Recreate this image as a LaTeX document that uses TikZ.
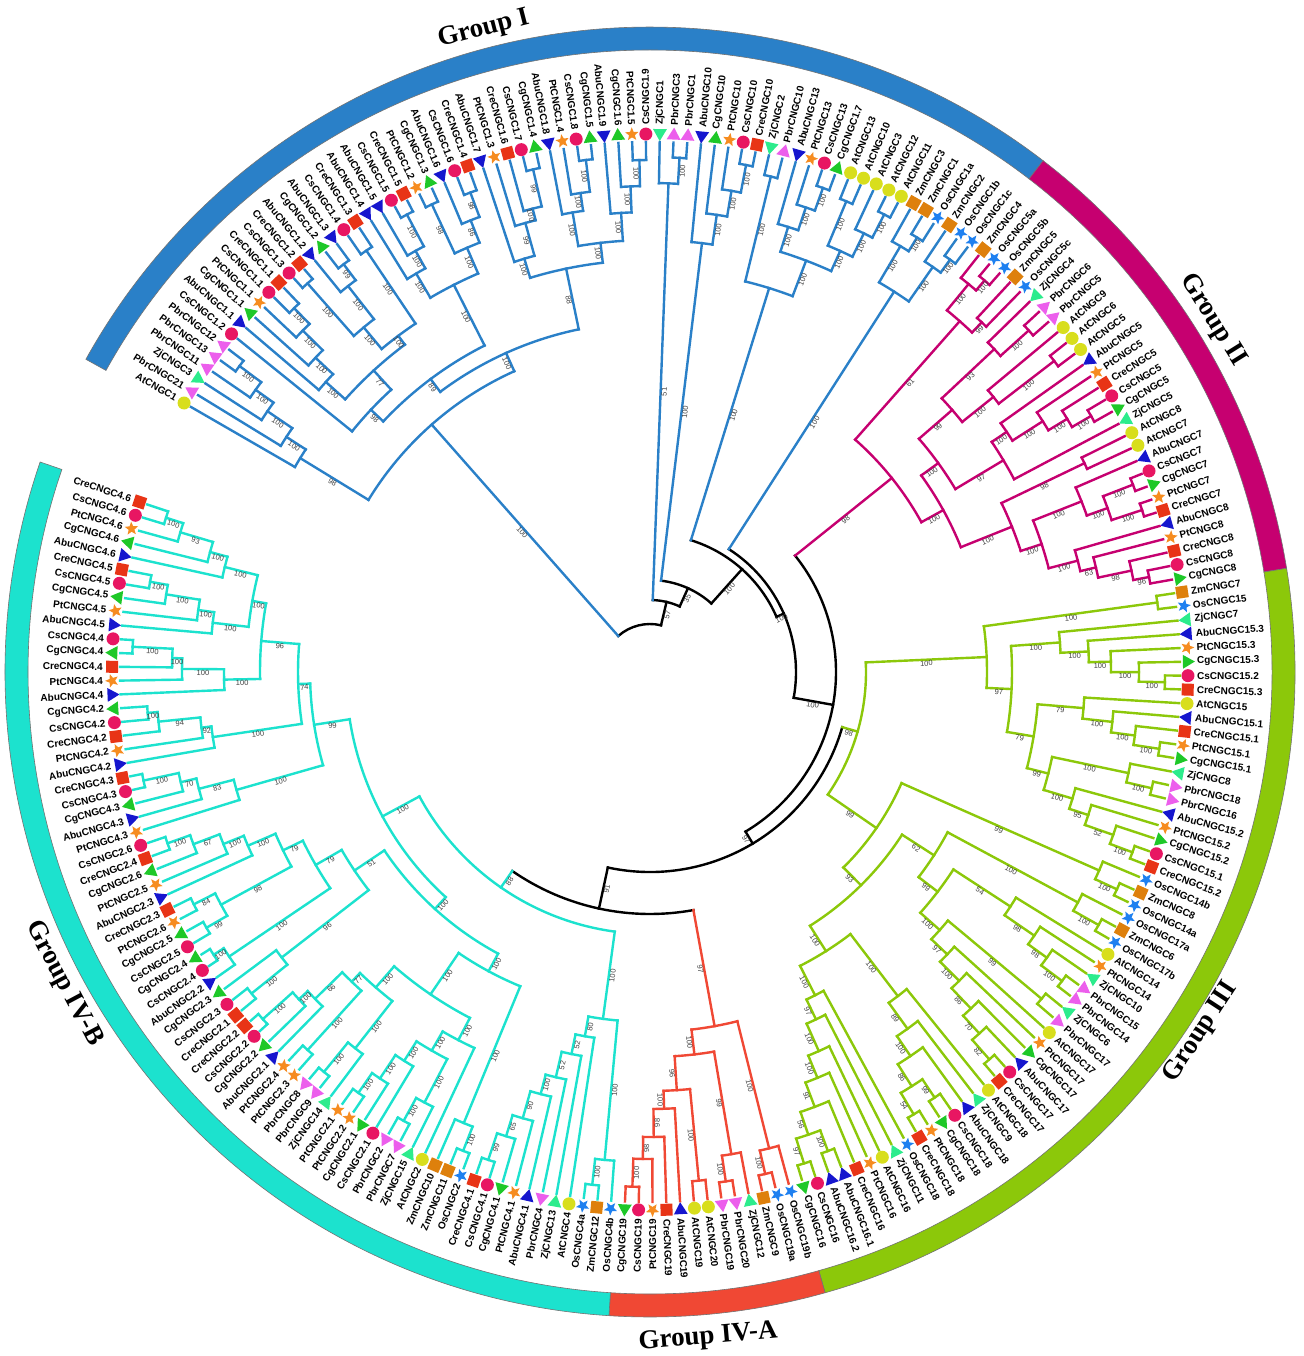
\documentclass[tikz,border=0pt]{standalone}
\usepackage{fontspec}
\setmainfont{Liberation Serif}
\setsansfont{Liberation Sans}
\usetikzlibrary{shapes.geometric}
\definecolor{gI}{RGB}{42,128,200}
\definecolor{gII}{RGB}{198,0,112}
\definecolor{gIII}{RGB}{140,200,10}
\definecolor{gIVA}{RGB}{240,72,52}
\definecolor{gIVB}{RGB}{28,226,206}
\definecolor{cAt}{RGB}{216,222,28}
\definecolor{cPbr}{RGB}{236,94,236}
\definecolor{cZj}{RGB}{44,236,140}
\definecolor{cAbu}{RGB}{22,22,206}
\definecolor{cCg}{RGB}{30,200,40}
\definecolor{cCs}{RGB}{232,22,98}
\definecolor{cCre}{RGB}{232,52,22}
\definecolor{cPt}{RGB}{246,140,32}
\definecolor{cOs}{RGB}{30,128,240}
\definecolor{cZm}{RGB}{222,128,12}
\tikzset{
 br/.style={line width=2.4pt,line cap=rect},
 lab/.style={font=\sffamily\bfseries\fontsize{10}{12}\selectfont,inner sep=0pt},
 bsl/.style={font=\sffamily\fontsize{7.5}{9}\selectfont,text=black!75,inner sep=0.8pt},
 mkn/.style={inner sep=0pt,outer sep=0pt,draw=none},
 grp/.style={font=\rmfamily\bfseries\fontsize{27}{30}\selectfont,inner sep=0pt},
}
\newcommand\gc{black}
\newcommand\setgc[1]{\renewcommand\gc{#1}}
\newcommand\MkAt[2]{\node[mkn,circle,fill=cAt,minimum size=13pt] (m#1) at (#2:538pt) {};}
\newcommand\MkCs[2]{\node[mkn,circle,fill=cCs,minimum size=13pt] (m#1) at (#2:538pt) {};}
\newcommand\MkCre[2]{\node[mkn,rectangle,fill=cCre,minimum size=12pt,rotate=#2] (m#1) at (#2:538pt) {};}
\newcommand\MkZm[2]{\node[mkn,rectangle,fill=cZm,minimum size=12pt,rotate=#2] (m#1) at (#2:538pt) {};}
\newcommand\MkPt[2]{\node[mkn,star,star points=5,star point ratio=2.3,fill=cPt,minimum size=14pt,rotate=#2-90] (m#1) at (#2:538pt) {};}
\newcommand\MkOs[2]{\node[mkn,star,star points=5,star point ratio=2.3,fill=cOs,minimum size=14pt,rotate=#2-90] (m#1) at (#2:538pt) {};}
\newcommand\MkPbr[2]{\node[mkn,regular polygon,regular polygon sides=3,fill=cPbr,minimum size=16pt,rotate=#2-90] (m#1) at (#2:537pt) {};}
\newcommand\MkCg[2]{\node[mkn,regular polygon,regular polygon sides=3,fill=cCg,minimum size=16pt,rotate=#2-90] (m#1) at (#2:537pt) {};}
\newcommand\MkZj[2]{\node[mkn,regular polygon,regular polygon sides=3,fill=cZj,minimum size=16pt,rotate=#2+90] (m#1) at (#2:539pt) {};}
\newcommand\MkAbu[2]{\node[mkn,regular polygon,regular polygon sides=3,fill=cAbu,minimum size=16pt,rotate=#2+90] (m#1) at (#2:539pt) {};}
\newcommand\Lf[3]{%
  \pgfmathsetmacro\A{150-(#1-1)*1.489}%
  \expandafter\xdef\csname ang@#1\endcsname{\A}%
  \expandafter\gdef\csname rad@#1\endcsname{530}%
  \expandafter\xdef\csname col@#1\endcsname{\gc}%
  \expandafter\gdef\csname bs@#1\endcsname{}%
  \csname Mk#2\endcsname{#1}{\A}%
  \pgfmathtruncatemacro\side{cos(\A-1)>0}%
  \ifnum\side=1
    \node[lab,rotate=\A,anchor=west] (t#1) at (\A:547pt) {#2CNGC#3};%
  \else
    \pgfmathsetmacro\B{\A+180}%
    \node[lab,rotate=\B,anchor=east] (t#1) at (\A:547pt) {#2CNGC#3};%
  \fi}
\newcommand\Stem[2]{%
  \edef\Sa{\csname ang@#1\endcsname}%
  \edef\Sr{\csname rad@#1\endcsname}%
  \edef\Sc{\csname col@#1\endcsname}%
  \draw[br,draw=\Sc] (\Sa:#2pt) -- (\Sa:\Sr pt);%
  \expandafter\ifx\csname bs@#1\endcsname\empty\else
    \pgfmathsetmacro\Rm{(#2+\Sr)/2}%
    \pgfmathtruncatemacro\side{cos(\Sa-1)>0}%
    \ifnum\side=1 \let\Rot\Sa\else\pgfmathsetmacro\Rot{\Sa+180}\fi
    \node[bsl,rotate=\Rot,anchor=north] (b#1) at (\Sa:\Rm pt) {\csname bs@#1\endcsname};%
  \fi}
\newcommand\Cl[5]{%
  \edef\Aa{\csname ang@#2\endcsname}%
  \edef\Ab{\csname ang@#3\endcsname}%
  \pgfmathsetmacro\Am{(\Aa+\Ab)/2}%
  \expandafter\xdef\csname ang@#1\endcsname{\Am}%
  \expandafter\xdef\csname rad@#1\endcsname{#4}%
  \expandafter\xdef\csname col@#1\endcsname{\gc}%
  \expandafter\gdef\csname bs@#1\endcsname{#5}%
  \draw[br,draw=\gc] (\Aa:#4pt) arc[start angle=\Aa,end angle=\Ab,radius=#4pt];%
  \Stem{#2}{#4}%
  \Stem{#3}{#4}}
\newcommand\Bar[3]{\filldraw[fill=#1,draw=black!55,line width=0.6pt] (#2:622pt) arc[start angle=#2,end angle=#3,radius=622pt] -- (#3:645pt) arc[start angle=#3,end angle=#2,radius=645pt] -- cycle;}
\begin{document}
\begin{tikzpicture}[x=1pt,y=1pt]
\useasboundingbox (0,0) rectangle (1303,-1356);
\fill[white] (0,0) rectangle (1303,-1356);
\begin{scope}[shift={(650,-672)}]
\Bar{gI}{151}{52.45}
\Bar{gII}{52.45}{9.25}
\Bar{gIII}{9.25}{-74.25}
\Bar{gIVA}{-74.25}{-93.65}
\Bar{gIVB}{-93.65}{-199}
\node[grp,rotate=14.5] (grpI) at (104.5:664pt) {Group I};
\node[grp,rotate=-58] (grpII) at (32:664pt) {Group II};
\node[grp,rotate=56.8] (grpIII) at (-33.2:658pt) {Group III};
\node[grp,rotate=5] (grpIVA) at (-85:668pt) {Group IV-A};
\node[grp,rotate=-62] (grpIVB) at (-152:664pt) {Group IV-B};
% ---------------- leaves
\setgc{gI}
\Lf{1}{At}{1}\Lf{2}{Pbr}{21}\Lf{3}{Zj}{3}\Lf{4}{Pbr}{11}\Lf{5}{Pbr}{13}\Lf{6}{Pbr}{12}
\Lf{7}{Cs}{1.2}\Lf{8}{Abu}{1.1}\Lf{9}{Cg}{1.1}\Lf{10}{Pt}{1.1}\Lf{11}{Cs}{1.1}\Lf{12}{Cre}{1.1}
\Lf{13}{Cs}{1.3}\Lf{14}{Cre}{1.2}\Lf{15}{Abu}{1.2}\Lf{16}{Cg}{1.2}\Lf{17}{Abu}{1.3}\Lf{18}{Cs}{1.4}
\Lf{19}{Cre}{1.3}\Lf{20}{Abu}{1.4}\Lf{21}{Abu}{1.5}\Lf{22}{Cs}{1.5}\Lf{23}{Cre}{1.5}\Lf{24}{Pt}{1.2}
\Lf{25}{Cg}{1.3}\Lf{26}{Abu}{1.6}\Lf{27}{Cs}{1.6}\Lf{28}{Cre}{1.4}\Lf{29}{Abu}{1.7}\Lf{30}{Pt}{1.3}
\Lf{31}{Cre}{1.6}\Lf{32}{Cs}{1.7}\Lf{33}{Cg}{1.4}\Lf{34}{Abu}{1.8}\Lf{35}{Pt}{1.4}\Lf{36}{Cs}{1.8}
\Lf{37}{Cg}{1.5}\Lf{38}{Abu}{1.9}\Lf{39}{Cg}{1.6}\Lf{40}{Pt}{1.5}\Lf{41}{Cs}{1.9}\Lf{42}{Zj}{1}
\Lf{43}{Pbr}{3}\Lf{44}{Pbr}{1}\Lf{45}{Abu}{10}\Lf{46}{Cg}{10}\Lf{47}{Pt}{10}\Lf{48}{Cs}{10}
\Lf{49}{Cre}{10}\Lf{50}{Zj}{2}\Lf{51}{Pbr}{10}\Lf{52}{Abu}{13}\Lf{53}{Pt}{13}\Lf{54}{Cs}{13}
\Lf{55}{Cg}{1.7}\Lf{56}{At}{13}\Lf{57}{At}{10}\Lf{58}{At}{3}\Lf{59}{At}{12}\Lf{60}{At}{11}
\Lf{61}{Zm}{3}\Lf{62}{Zm}{1}\Lf{63}{Os}{1a}\Lf{64}{Zm}{2}\Lf{65}{Os}{1b}\Lf{66}{Os}{1c}
\setgc{gII}
\Lf{67}{Zm}{4}\Lf{68}{Os}{5a}\Lf{69}{Os}{5b}\Lf{70}{Zm}{5}\Lf{71}{Os}{5c}\Lf{72}{Zj}{4}
\Lf{73}{Pbr}{6}\Lf{74}{Pbr}{5}\Lf{75}{At}{9}\Lf{76}{At}{6}\Lf{77}{At}{5}\Lf{78}{Abu}{5}
\Lf{79}{Pt}{5}\Lf{80}{Cre}{5}\Lf{81}{Cs}{5}\Lf{82}{Cg}{5}\Lf{83}{Zj}{5}\Lf{84}{At}{8}
\Lf{85}{At}{7}\Lf{86}{Abu}{7}\Lf{87}{Cs}{7}\Lf{88}{Cg}{7}\Lf{89}{Pt}{7}\Lf{90}{Cre}{7}
\Lf{91}{Abu}{8}\Lf{92}{Pt}{8}\Lf{93}{Cre}{8}\Lf{94}{Cs}{8}\Lf{95}{Cg}{8}
\setgc{gIII}
\Lf{96}{Zm}{7}\Lf{97}{Os}{15}\Lf{98}{Zj}{7}\Lf{99}{Abu}{15.3}\Lf{100}{Pt}{15.3}\Lf{101}{Cg}{15.3}
\Lf{102}{Cs}{15.2}\Lf{103}{Cre}{15.3}\Lf{104}{At}{15}\Lf{105}{Abu}{15.1}\Lf{106}{Cre}{15.1}
\Lf{107}{Pt}{15.1}\Lf{108}{Cg}{15.1}\Lf{109}{Zj}{8}\Lf{110}{Pbr}{18}\Lf{111}{Pbr}{16}
\Lf{112}{Abu}{15.2}\Lf{113}{Pt}{15.2}\Lf{114}{Cg}{15.2}\Lf{115}{Cs}{15.1}\Lf{116}{Cre}{15.2}
\Lf{117}{Os}{14b}\Lf{118}{Zm}{8}\Lf{119}{Os}{14a}\Lf{120}{Os}{17a}\Lf{121}{Zm}{6}\Lf{122}{Os}{17b}
\Lf{123}{At}{14}\Lf{124}{Pt}{14}\Lf{125}{Zj}{10}\Lf{126}{Pbr}{15}\Lf{127}{Pbr}{14}\Lf{128}{Zj}{6}
\Lf{129}{Pbr}{17}\Lf{130}{At}{17}\Lf{131}{Pt}{17}\Lf{132}{Cg}{17}\Lf{133}{Abu}{17}\Lf{134}{Cs}{17}
\Lf{135}{Cre}{17}\Lf{136}{At}{18}\Lf{137}{Zj}{9}\Lf{138}{Abu}{18}\Lf{139}{Cs}{18}\Lf{140}{Cg}{18}
\Lf{141}{Pt}{18}\Lf{142}{Cre}{18}\Lf{143}{Os}{18}\Lf{144}{Zj}{11}\Lf{145}{At}{16}\Lf{146}{Pt}{16}
\Lf{147}{Cre}{16}\Lf{148}{Abu}{16.1}\Lf{149}{Abu}{16.2}\Lf{150}{Cs}{16}\Lf{151}{Cg}{16}
\setgc{gIVA}
\Lf{152}{Os}{19b}\Lf{153}{Os}{19a}\Lf{154}{Zm}{9}\Lf{155}{Zj}{12}\Lf{156}{Pbr}{20}\Lf{157}{Pbr}{19}
\Lf{158}{At}{20}\Lf{159}{At}{19}\Lf{160}{Abu}{19}\Lf{161}{Cre}{19}\Lf{162}{Pt}{19}\Lf{163}{Cs}{19}
\Lf{164}{Cg}{19}
\setgc{gIVB}
\Lf{165}{Os}{4b}\Lf{166}{Zm}{12}\Lf{167}{Os}{4a}\Lf{168}{At}{4}\Lf{169}{Zj}{13}\Lf{170}{Pbr}{4}
\Lf{171}{Abu}{4.1}\Lf{172}{Pt}{4.1}\Lf{173}{Cg}{4.1}\Lf{174}{Cs}{4.1}\Lf{175}{Cre}{4.1}\Lf{176}{Os}{2}
\Lf{177}{Zm}{11}\Lf{178}{Zm}{10}\Lf{179}{At}{2}\Lf{180}{Zj}{15}\Lf{181}{Pbr}{7}\Lf{182}{Pbr}{2}
\Lf{183}{Cs}{2.1}\Lf{184}{Cg}{2.1}\Lf{185}{Pt}{2.2}\Lf{186}{Pt}{2.1}\Lf{187}{Zj}{14}\Lf{188}{Pbr}{9}
\Lf{189}{Pbr}{8}\Lf{190}{Pt}{2.3}\Lf{191}{Pt}{2.4}\Lf{192}{Abu}{2.1}\Lf{193}{Cg}{2.2}\Lf{194}{Cs}{2.2}
\Lf{195}{Cre}{2.2}\Lf{196}{Cre}{2.1}\Lf{197}{Cs}{2.3}\Lf{198}{Cg}{2.3}\Lf{199}{Abu}{2.2}\Lf{200}{Cs}{2.4}
\Lf{201}{Cg}{2.4}\Lf{202}{Cs}{2.5}\Lf{203}{Cg}{2.5}\Lf{204}{Pt}{2.6}\Lf{205}{Cre}{2.3}\Lf{206}{Abu}{2.3}
\Lf{207}{Pt}{2.5}\Lf{208}{Cg}{2.6}\Lf{209}{Cre}{2.4}\Lf{210}{Cs}{2.6}\Lf{211}{Pt}{4.3}\Lf{212}{Abu}{4.3}
\Lf{213}{Cg}{4.3}\Lf{214}{Cs}{4.3}\Lf{215}{Cre}{4.3}\Lf{216}{Abu}{4.2}\Lf{217}{Pt}{4.2}\Lf{218}{Cre}{4.2}
\Lf{219}{Cs}{4.2}\Lf{220}{Cg}{4.2}\Lf{221}{Abu}{4.4}\Lf{222}{Pt}{4.4}\Lf{223}{Cre}{4.4}\Lf{224}{Cg}{4.4}
\Lf{225}{Cs}{4.4}\Lf{226}{Abu}{4.5}\Lf{227}{Pt}{4.5}\Lf{228}{Cg}{4.5}\Lf{229}{Cs}{4.5}\Lf{230}{Cre}{4.5}
\Lf{231}{Abu}{4.6}\Lf{232}{Cg}{4.6}\Lf{233}{Pt}{4.6}\Lf{234}{Cs}{4.6}\Lf{235}{Cre}{4.6}
% ---------------- Group I
\setgc{gI}
\Cl{c1}{5}{6}{512}{100}\Cl{c2}{4}{c1}{485}{100}\Cl{c3}{3}{c2}{463}{100}\Cl{c4}{2}{c3}{433}{100}\Cl{c5}{1}{c4}{410}{98}
\Cl{a1}{11}{12}{509}{100}\Cl{a2}{10}{a1}{487}{100}\Cl{a3}{9}{a2}{459}{100}\Cl{a4}{8}{a3}{435}{100}
\Cl{b1}{13}{14}{518}{100}\Cl{b3}{16}{17}{510}{99}\Cl{bb}{15}{b3}{490}{100}\Cl{b5}{b1}{bb}{448}{100}
\Cl{b4}{18}{19}{508}{100}\Cl{b6}{b5}{b4}{420}{100}\Cl{ab}{a4}{b6}{409}{77}\Cl{a5}{7}{ab}{383}{98}
\Cl{d1}{22}{23}{518}{100}\Cl{x1g}{21}{d1}{482}{100}\Cl{x2g}{20}{x1g}{462}{100}
\Cl{d2}{24}{25}{516}{98}\Cl{e1}{27}{28}{512}{98}\Cl{e2}{26}{e1}{486}{86}\Cl{e3}{d2}{e2}{462}{100}
\Cl{x3g}{x2g}{e3}{434}{100}
\Cl{f1}{32}{33}{516}{99}\Cl{f2}{31}{f1}{478}{100}\Cl{f3}{30}{f2}{466}{99}\Cl{f4}{29}{f3}{432}{100}
\Cl{g1}{36}{37}{516}{100}\Cl{g2}{35}{g1}{484}{100}\Cl{g3}{34}{g2}{466}{100}
\Cl{h1}{40}{41}{512}{100}\Cl{h2}{39}{h1}{486}{100}\Cl{h3}{38}{h2}{460}{100}
\Cl{gh}{g3}{h3}{432}{100}\Cl{fgh}{f4}{gh}{412}{88}
\Cl{qg}{a5}{x3g}{366}{89}\Cl{GIb}{qg}{fgh}{350}{100}\Cl{GIL}{c5}{GIb}{330}{100}
\Cl{i1}{43}{44}{515}{100}\Cl{i2}{42}{i1}{489}{51}
\Cl{j1}{48}{49}{516}{100}\Cl{j2}{47}{j1}{488}{100}\Cl{j3}{46}{j2}{462}{100}\Cl{j4}{45}{j3}{432}{100}
\Cl{k1}{50}{51}{510}{100}\Cl{k2}{54}{55}{514}{100}\Cl{k3}{53}{k2}{490}{100}\Cl{k4}{52}{k3}{466}{100}
\Cl{m1}{56}{57}{510}{100}\Cl{m2}{59}{60}{514}{100}\Cl{m3}{58}{m2}{488}{100}\Cl{m4}{m1}{m3}{462}{100}
\Cl{kk}{k4}{m4}{440}{100}\Cl{kk2}{k1}{kk}{402}{100}
\Cl{n1}{62}{63}{510}{100}\Cl{n2}{61}{n1}{494}{100}\Cl{n3}{65}{66}{510}{100}\Cl{n4}{64}{n3}{494}{100}\Cl{n5}{n2}{n4}{452}{100}
% ---------------- Group II
\setgc{gII}
\Cl{p1}{68}{69}{515}{100}\Cl{p2}{67}{p1}{502}{100}\Cl{p3}{70}{71}{482}{99}\Cl{p4}{p2}{p3}{468}{61}
\Cl{q1}{73}{74}{510}{100}\Cl{q2}{72}{q1}{472}{93}\Cl{q3}{76}{77}{510}{100}\Cl{q4}{75}{q3}{440}{100}\Cl{q5}{q2}{q4}{400}{99}
\Cl{s1}{81}{82}{510}{100}\Cl{s2}{80}{s1}{488}{100}\Cl{s3}{79}{s2}{466}{100}\Cl{s4}{78}{s3}{430}{100}\Cl{s5}{s4}{83}{412}{97}
\Cl{q6}{q5}{s5}{356}{100}
\Cl{t1}{84}{85}{482}{98}
\Cl{u1}{87}{88}{518}{100}\Cl{u2}{89}{90}{518}{100}\Cl{u3}{u1}{u2}{486}{100}\Cl{u4}{86}{u3}{464}{100}
\Cl{v1}{94}{95}{508}{96}\Cl{v2}{93}{v1}{492}{98}\Cl{v3}{92}{v2}{458}{63}\Cl{v4}{91}{v3}{442}{100}
\Cl{w1}{u4}{v4}{412}{100}\Cl{w2}{t1}{w1}{390}{100}\Cl{w3}{q6}{w2}{335}{100}\Cl{GII}{p4}{w3}{310}{98}
% ---------------- Group III
\setgc{gIII}
\Cl{x1}{96}{97}{512}{100}
\Cl{y1}{102}{103}{515}{100}\Cl{y2}{101}{y1}{489}{100}\Cl{y3}{100}{y2}{461}{100}\Cl{y4}{99}{y3}{439}{100}\Cl{y5}{98}{y4}{411}{100}
\Cl{z1}{107}{108}{515}{100}\Cl{z2}{106}{z1}{489}{100}\Cl{z3}{105}{z2}{465}{100}\Cl{z4}{104}{z3}{435}{79}
\Cl{A1}{110}{111}{515}{100}\Cl{A2}{109}{A1}{489}{100}\Cl{A3}{115}{116}{515}{100}\Cl{A4}{114}{A3}{491}{52}
\Cl{A5}{113}{A4}{461}{95}\Cl{A6}{112}{A5}{441}{100}\Cl{A7}{A2}{A6}{411}{99}\Cl{A8}{z4}{A7}{389}{79}
\Cl{A9}{y5}{A8}{362}{97}\Cl{A10}{x1}{A9}{337}{100}
\Cl{B1}{118}{119}{515}{100}\Cl{B2}{117}{B1}{491}{99}\Cl{B3}{121}{122}{515}{100}\Cl{B4}{120}{B3}{486}{100}
\Cl{C1}{126}{127}{515}{100}\Cl{C2}{125}{C1}{489}{98}\Cl{C3}{124}{C2}{466}{98}\Cl{C4}{123}{C3}{430}{54}
\Cl{D1}{128}{129}{510}{99}
\Cl{E1}{134}{135}{515}{82}\Cl{E2}{133}{E1}{489}{70}\Cl{E3}{132}{E2}{465}{86}\Cl{E4}{131}{E3}{437}{100}\Cl{E5}{130}{E4}{410}{97}
\Cl{DE}{D1}{E5}{388}{100}\Cl{CDE}{C4}{DE}{362}{99}\Cl{BC}{B4}{CDE}{338}{62}
\Cl{F1}{139}{140}{512}{99}\Cl{F2}{141}{142}{515}{54}\Cl{F3}{F1}{F2}{490}{86}\Cl{F4}{138}{F3}{464}{100}
\Cl{F4b}{137}{F4}{440}{89}\Cl{F5}{136}{F4b}{408}{100}
\Cl{G1}{150}{151}{515}{97}\Cl{G2}{148}{149}{511}{100}\Cl{G3}{G1}{G2}{489}{56}\Cl{G4}{147}{G3}{465}{91}
\Cl{G5}{146}{G4}{439}{100}\Cl{G6}{145}{G5}{415}{100}\Cl{G7}{144}{G6}{385}{97}\Cl{G8}{143}{G7}{363}{100}
\Cl{FG}{F5}{G8}{330}{100}\Cl{BCFG}{BC}{FG}{300}{93}\Cl{BBX}{B2}{BCFG}{275}{99}
\Cl{GIII}{A10}{BBX}{216}{98}
% ---------------- Group IV-A
\setgc{gIVA}
\Cl{ia1}{163}{164}{515}{100}\Cl{ia2}{162}{ia1}{487}{98}\Cl{ia3}{161}{ia2}{465}{98}\Cl{ia4}{160}{ia3}{437}{100}
\Cl{ia5}{158}{159}{511}{100}\Cl{ia6}{ia4}{ia5}{419}{96}\Cl{ib1}{156}{157}{515}{100}\Cl{ib2}{155}{ib1}{489}{99}
\Cl{ia7}{ia6}{ib2}{385}{100}\Cl{ic1}{153}{154}{515}{100}\Cl{ic2}{152}{ic1}{491}{100}\Cl{GIVA}{ia7}{ic2}{360}{97}
% ---------------- Group IV-B
\setgc{gIVB}
\Cl{ja1}{166}{167}{516}{100}\Cl{ja2}{165}{ja1}{490}{100}
\Cl{jb1}{174}{175}{514}{99}\Cl{jb2}{173}{jb1}{486}{65}\Cl{jb3}{172}{jb2}{464}{90}\Cl{jb4}{171}{jb3}{436}{100}
\Cl{jb5}{170}{jb4}{416}{52}\Cl{jb6}{169}{jb5}{390}{52}\Cl{jb7}{168}{jb6}{370}{80}\Cl{JA}{ja2}{jb7}{350}{100}
\Cl{jc1}{176}{177}{514}{100}\Cl{jc2}{178}{jc1}{488}{100}
\Cl{jd1}{181}{182}{512}{100}\Cl{jd2}{180}{jd1}{486}{100}
\Cl{K1}{185}{186}{512}{100}\Cl{K2}{184}{K1}{488}{100}\Cl{K3}{183}{K2}{460}{100}
\Cl{JD}{jd2}{K3}{437}{100}\Cl{JD2}{179}{JD}{415}{100}
\Cl{je1}{188}{189}{516}{100}\Cl{je2}{187}{je1}{478}{100}\Cl{je3}{190}{191}{510}{100}
\Cl{jf1}{194}{195}{520}{100}\Cl{jf2}{193}{jf1}{480}{100}\Cl{jf3}{192}{jf2}{468}{66}
\Cl{J5}{je3}{jf3}{430}{77}\Cl{JE}{je2}{J5}{418}{100}\Cl{JDE}{JD2}{JE}{390}{100}\Cl{JC}{jc2}{JDE}{340}{100}
\Cl{jg1}{196}{197}{512}{100}\Cl{XX}{198}{jg1}{466}{96}
\Cl{jh1}{200}{201}{520}{100}\Cl{J1}{199}{jh1}{508}{100}
\Cl{jh2}{202}{203}{512}{99}\Cl{jh4}{204}{205}{512}{84}\Cl{jh5}{jh2}{jh4}{488}{98}
\Cl{ji1}{209}{210}{512}{100}\Cl{ji2}{208}{ji1}{488}{67}\Cl{ji3}{207}{ji2}{460}{100}\Cl{ji4}{206}{ji3}{438}{100}
\Cl{J2}{jh5}{ji4}{408}{79}\Cl{J3}{J1}{J2}{386}{79}\Cl{J4}{XX}{J3}{356}{51}\Cl{JJ}{JC}{J4}{320}{100}
\Cl{jk1}{214}{215}{518}{100}\Cl{jk2}{213}{jk1}{482}{70}\Cl{jk3}{212}{jk2}{466}{83}\Cl{jk4}{211}{jk3}{430}{100}
\Cl{jl1}{219}{220}{504}{100}\Cl{jl2}{218}{jl1}{494}{94}\Cl{jl3}{217}{jl2}{452}{92}\Cl{jl4}{216}{jl3}{442}{100}
\Cl{jm1}{224}{225}{518}{100}\Cl{jm2}{223}{jm1}{478}{100}\Cl{jm3}{222}{jm2}{468}{100}\Cl{jm4}{221}{jm3}{426}{100}
\Cl{jn1}{229}{230}{508}{100}\Cl{jn2}{228}{jn1}{490}{100}\Cl{jn3}{227}{jn2}{456}{100}\Cl{jn4}{226}{jn3}{440}{100}
\Cl{jo1}{234}{235}{508}{100}\Cl{jo2}{233}{jo1}{490}{93}\Cl{jo3}{232}{jo2}{456}{100}\Cl{jo4}{231}{jo3}{438}{100}
\Cl{jo5}{jn4}{jo4}{404}{100}\Cl{jo6}{jm4}{jo5}{390}{96}\Cl{jo7}{jl4}{jo6}{352}{74}\Cl{jo8}{jk4}{jo7}{340}{99}
\Cl{P5}{JJ}{jo8}{304}{100}\Cl{GIVB}{JA}{P5}{262}{88}
% ---------------- backbone
\setgc{black}
\Cl{IV}{GIVA}{GIVB}{242}{91}
\Cl{Ng}{GIII}{IV}{200}{97}
\Cl{Nf}{GII}{Ng}{186}{100}
\Cl{Nd}{n5}{Nf}{146}{100}
\Cl{Nc}{kk2}{Nd}{138}{100}
\Cl{Nb}{j4}{Nc}{92}{35}
\Cl{Na}{i2}{Nb}{72}{57}
\Cl{Root}{GIL}{Na}{48}{}
\end{scope}
\end{tikzpicture}
\end{document}
